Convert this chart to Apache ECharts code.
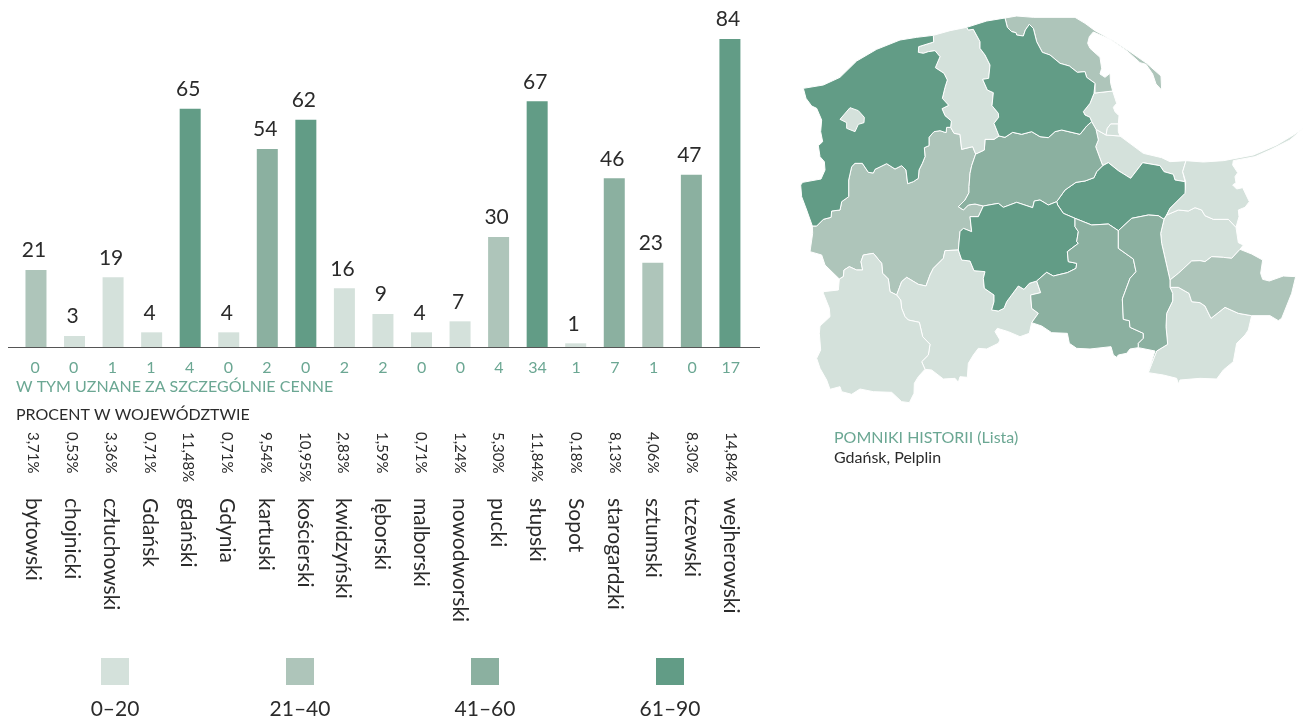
<!DOCTYPE html>
<html>
<head>
<meta charset="utf-8">
<title>Pomorskie</title>
<script src="https://cdn.jsdelivr.net/npm/echarts@6/dist/echarts.min.js"></script>
<style>
html, body { margin: 0; padding: 0; background: #fff; }
#chart { width: 1316px; height: 719px; }
</style>
</head>
<body>
<div id="chart"></div>
<script>
// dane z wykresu
const powiaty = ['bytowski', 'chojnicki', 'człuchowski', 'Gdańsk', 'gdański', 'Gdynia', 'kartuski', 'kościerski', 'kwidzyński', 'lęborski', 'malborski', 'nowodworski', 'pucki', 'słupski', 'Sopot', 'starogardzki', 'sztumski', 'tczewski', 'wejherowski'];
const liczby = [21, 3, 19, 4, 65, 4, 54, 62, 16, 9, 4, 7, 30, 67, 1, 46, 23, 47, 84];
const cenne = ['0', '0', '1', '1', '4', '0', '2', '0', '2', '2', '0', '0', '4', '34', '1', '7', '1', '0', '17'];
const procenty = ['3,71%', '0,53%', '3,36%', '0,71%', '11,48%', '0,71%', '9,54%', '10,95%', '2,83%', '1,59%', '0,71%', '1,24%', '5,30%', '11,84%', '0,18%', '8,13%', '4,06%', '8,30%', '14,84%'];
const zakresy = [[0, 20], [21, 40], [41, 60], [61, 90]];
const zakresyOpis = ['0–20', '21–40', '41–60', '61–90'];
const kolory = ['#d4e1db', '#aec5ba', '#8bb0a0', '#629c86'];

// kontury powiatow, odrysowane z obrazka (x, y w skali 3x, poczatek mapy w x=790)
const slupski = [[40,265],[100,255],[150,232],[200,183],[260,148],[330,120],[380,112],[430,106],[431,126],[386,140],[385,157],[400,160],[415,155],[435,152],[450,170],[436,203],[462,220],[472,240],[465,262],[457,295],[476,316],[456,326],[465,347],[484,363],[482,382],[470,382],[468,398],[450,392],[432,395],[417,412],[417,437],[403,443],[405,470],[397,490],[387,510],[385,535],[370,545],[353,551],[348,510],[335,497],[315,507],[290,491],[255,508],[250,519],[235,517],[217,490],[195,490],[185,500],[176,540],[176,590],[155,605],[150,630],[125,633],[123,652],[100,658],[80,678],[67,678],[50,630],[35,590],[32,555],[38,547],[93,537],[105,510],[103,485],[90,470],[85,437],[98,425],[92,395],[95,360],[80,325],[65,318],[48,295]];
const slupsk = [[150,358],[180,323],[205,332],[223,352],[222,368],[205,373],[195,395],[170,385],[170,368]];
const leborski = [[430,106],[480,92],[530,82],[535,90],[550,88],[570,125],[570,145],[585,165],[600,195],[596,235],[578,238],[592,270],[610,278],[606,317],[625,340],[626,352],[612,370],[627,408],[612,418],[585,418],[583,450],[557,462],[548,440],[515,448],[510,403],[492,400],[482,382],[484,363],[465,347],[456,326],[476,316],[457,295],[465,262],[472,240],[462,220],[436,203],[450,170],[435,152],[415,155],[400,160],[385,157],[386,140],[431,126]];
const wejherowski = [[530,82],[590,63],[645,54],[652,82],[665,95],[678,98],[680,105],[700,108],[706,90],[718,73],[730,85],[740,125],[757,157],[780,165],[810,190],[838,198],[862,217],[885,215],[890,232],[915,250],[912,280],[900,310],[880,335],[885,345],[900,352],[905,365],[890,378],[870,403],[815,390],[795,395],[775,413],[750,410],[725,395],[695,403],[668,397],[645,412],[627,408],[612,370],[626,352],[625,340],[606,317],[610,278],[592,270],[578,238],[596,235],[600,195],[585,165],[570,145],[570,125],[550,88],[535,90]];
const pucki = [[645,54],[680,48],[730,52],[855,52],[885,70],[915,92],[970,122],[1020,155],[1070,190],[1113,228],[1115,270],[1098,252],[1088,222],[1068,193],[1050,188],[1010,152],[960,118],[910,96],[898,110],[893,130],[900,145],[930,172],[935,205],[930,222],[945,232],[960,220],[962,250],[968,273],[915,279],[915,250],[890,232],[885,215],[862,217],[838,198],[810,190],[780,165],[757,157],[740,125],[730,85],[718,73],[706,90],[700,108],[680,105],[678,98],[665,95],[652,82]];
const gdynia = [[915,279],[968,273],[980,310],[970,322],[975,335],[987,347],[985,372],[962,372],[952,385],[948,405],[918,388],[905,365],[900,352],[885,345],[880,335],[900,310],[912,280]];
const sopot = [[962,372],[985,372],[985,395],[990,408],[948,405],[952,385]];
const gdansk = [[918,388],[948,405],[990,408],[1060,460],[1115,473],[1140,485],[1188,482],[1178,515],[1185,545],[1155,540],[1150,523],[1122,515],[1110,497],[1058,488],[1022,535],[985,512],[955,488],[938,497],[917,440],[925,420]];
const nowodworski = [[1188,482],[1240,486],[1300,482],[1390,465],[1460,435],[1510,405],[1540,385],[1500,420],[1440,450],[1395,470],[1330,482],[1328,495],[1343,518],[1335,530],[1338,548],[1328,555],[1340,567],[1358,563],[1378,605],[1365,622],[1345,630],[1347,650],[1338,682],[1315,658],[1270,658],[1245,647],[1235,630],[1215,623],[1195,633],[1165,630],[1130,645],[1140,625],[1185,580],[1187,545],[1178,515]];
const gdanski = [[800,605],[825,570],[858,547],[885,543],[912,533],[920,515],[938,497],[955,488],[985,512],[1022,535],[1058,488],[1110,497],[1122,515],[1150,523],[1155,540],[1185,545],[1187,580],[1140,625],[1130,645],[1122,658],[1105,647],[1075,645],[1025,655],[985,692],[955,672],[905,675],[855,655],[820,640],[803,615]];
const kartuski = [[557,462],[583,450],[585,418],[612,418],[627,408],[645,412],[668,397],[695,403],[725,395],[750,410],[775,413],[795,395],[815,390],[870,403],[890,378],[905,365],[918,388],[925,420],[917,440],[938,497],[920,515],[912,533],[885,543],[858,547],[825,570],[800,605],[775,615],[750,600],[733,603],[728,623],[680,607],[640,622],[625,610],[580,618],[555,612],[535,615],[520,630],[505,620],[525,600],[537,578],[537,560],[540,520],[545,497]];
const koscierski = [[580,618],[625,610],[640,622],[680,607],[728,623],[733,603],[750,600],[775,615],[800,605],[803,615],[820,640],[855,655],[855,680],[865,695],[860,725],[865,730],[832,755],[835,785],[860,790],[858,805],[832,818],[790,828],[770,817],[740,843],[718,850],[702,868],[685,858],[650,905],[642,925],[625,933],[605,930],[612,905],[612,885],[583,865],[580,835],[585,815],[552,812],[540,783],[515,780],[505,750],[510,695],[520,685],[545,695],[540,650],[565,650]];
const starogardzki = [[855,655],[905,675],[955,672],[985,692],[985,745],[1030,777],[1038,815],[1020,835],[997,897],[1000,958],[1018,962],[1020,982],[1060,1000],[1060,1015],[1045,1030],[1045,1043],[1020,1047],[1010,1060],[985,1065],[980,1072],[970,1065],[963,1040],[900,1047],[860,1045],[838,1030],[832,1000],[785,998],[755,978],[725,968],[745,940],[725,925],[722,885],[752,878],[740,843],[770,817],[790,828],[832,818],[858,805],[860,790],[835,785],[832,755],[865,730],[860,725],[865,695],[855,680]];
const tczewski = [[985,692],[1025,655],[1075,645],[1105,647],[1122,658],[1112,700],[1115,730],[1140,840],[1140,862],[1148,880],[1148,903],[1130,940],[1128,980],[1133,1033],[1100,1053],[1074,1118],[1072,1118],[1095,1053],[1045,1043],[1045,1030],[1060,1015],[1060,1000],[1020,982],[1018,962],[1000,958],[997,897],[1020,835],[1038,815],[1030,777],[985,745]];
const malborski = [[1130,645],[1165,630],[1195,633],[1215,623],[1235,630],[1245,647],[1270,658],[1315,658],[1338,682],[1345,728],[1360,735],[1350,748],[1325,775],[1300,772],[1265,770],[1245,785],[1230,782],[1205,783],[1165,820],[1140,840],[1115,730],[1112,700],[1122,658]];
const sztumski = [[1140,840],[1165,820],[1205,783],[1230,782],[1245,785],[1265,770],[1300,772],[1325,775],[1350,748],[1385,762],[1418,780],[1412,820],[1418,838],[1438,843],[1480,828],[1517,830],[1505,880],[1485,930],[1475,955],[1465,962],[1440,947],[1385,947],[1345,940],[1305,922],[1263,955],[1245,918],[1230,908],[1205,905],[1197,880],[1165,862],[1140,862]];
const kwidzynski = [[1140,862],[1165,862],[1197,880],[1205,905],[1230,908],[1245,918],[1263,955],[1305,922],[1345,940],[1385,947],[1375,990],[1365,1005],[1340,1030],[1330,1085],[1300,1110],[1280,1137],[1230,1135],[1170,1140],[1165,1152],[1160,1135],[1120,1125],[1075,1118],[1100,1053],[1133,1033],[1128,980],[1130,940],[1148,903],[1148,880]];
const bytowski = [[482,382],[492,400],[510,403],[515,448],[548,440],[557,462],[545,497],[540,520],[537,560],[537,578],[525,600],[505,620],[520,630],[535,615],[555,612],[580,618],[565,650],[540,650],[545,695],[520,685],[510,695],[505,750],[465,752],[460,775],[430,805],[420,825],[408,858],[385,853],[350,832],[335,845],[320,885],[300,875],[295,837],[278,820],[275,790],[250,760],[220,765],[213,785],[218,810],[200,810],[178,800],[162,810],[160,830],[148,837],[105,795],[95,765],[60,755],[68,700],[67,678],[80,678],[100,658],[123,652],[125,633],[150,630],[155,605],[176,590],[176,540],[185,500],[195,490],[217,490],[235,517],[250,519],[255,508],[290,491],[315,507],[335,497],[348,510],[353,551],[370,545],[385,535],[387,510],[397,490],[405,470],[403,443],[417,437],[417,412],[432,395],[450,392],[468,398],[470,382]];
const czluchowski = [[148,837],[160,830],[162,810],[178,800],[200,810],[218,810],[213,785],[220,765],[250,760],[275,790],[278,820],[295,837],[300,875],[320,885],[332,900],[335,925],[345,950],[355,960],[388,967],[398,1010],[420,1033],[415,1065],[395,1085],[405,1108],[385,1130],[373,1150],[372,1180],[358,1208],[335,1205],[305,1177],[250,1175],[210,1167],[185,1183],[155,1175],[150,1160],[120,1168],[110,1140],[90,1105],[80,1075],[92,1050],[88,1000],[90,978],[120,950],[118,925],[100,880],[100,875],[145,870]];
const chojnicki = [[320,885],[335,845],[350,832],[385,853],[408,858],[420,825],[430,805],[460,775],[465,752],[505,750],[515,780],[540,783],[552,812],[585,815],[580,835],[583,865],[612,885],[612,905],[605,930],[625,933],[642,925],[650,905],[685,858],[702,868],[718,850],[740,843],[752,878],[722,885],[725,925],[745,940],[725,968],[718,1000],[690,1010],[655,995],[622,985],[615,995],[630,1020],[625,1030],[590,1047],[565,1045],[550,1065],[535,1090],[532,1132],[510,1130],[505,1147],[495,1135],[460,1137],[425,1110],[405,1108],[395,1085],[415,1065],[420,1033],[398,1010],[388,967],[355,960],[345,950],[335,925],[332,900]];

const kontury = {
  'bytowski': bytowski, 'chojnicki': chojnicki, 'człuchowski': czluchowski, 'Gdańsk': gdansk,
  'gdański': gdanski, 'Gdynia': gdynia, 'kartuski': kartuski, 'kościerski': koscierski,
  'kwidzyński': kwidzynski, 'lęborski': leborski, 'malborski': malborski, 'nowodworski': nowodworski,
  'pucki': pucki, 'słupski': slupski, 'Sopot': sopot, 'starogardzki': starogardzki,
  'sztumski': sztumski, 'tczewski': tczewski, 'wejherowski': wejherowski, 'Słupsk': slupsk
};

// miasto Slupsk nie ma slupka, na mapie jest w najjasniejszej klasie
const slupskWartosc = 10;

const geoJson = {
  type: 'FeatureCollection',
  features: Object.keys(kontury).map(function (name) {
    const ring = kontury[name].map(function (p) { return [p[0], -p[1]]; });
    ring.push(ring[0]);
    return {
      type: 'Feature',
      properties: { name: name },
      geometry: { type: 'Polygon', coordinates: [ring] }
    };
  })
};
echarts.registerMap('pomorskie', geoJson);

const tekst = '#2b2b2b';
const zielony = '#6ba793';
const czcionka = 'Lato, "Noto Sans", sans-serif';

function osX(gridIndex, dane, margin, rotate, size, color) {
  return {
    type: 'category',
    gridIndex: gridIndex,
    position: 'bottom',
    data: dane,
    axisLine: { show: false },
    axisTick: { show: false },
    axisLabel: { interval: 0, rotate: rotate, margin: margin, fontSize: size, color: color, fontFamily: czcionka }
  };
}

function osY(gridIndex) {
  return { type: 'value', gridIndex: gridIndex, show: false, min: 0, max: 84 };
}

// legenda pod wykresem
const legendaX = [115, 300, 485, 670];
const legenda = [];
zakresyOpis.forEach(function (opis, i) {
  legenda.push({
    type: 'rect',
    shape: { x: legendaX[i] - 14, y: 658, width: 28, height: 27 },
    style: { fill: kolory[i] }
  });
  legenda.push({
    type: 'text',
    style: { x: legendaX[i], y: 709, text: opis, fill: tekst, font: '21px ' + czcionka, textAlign: 'center', textVerticalAlign: 'middle' }
  });
});

function napis(x, y, text, color, size) {
  return {
    type: 'text',
    style: { x: x, y: y, text: text, fill: color, font: size + 'px ' + czcionka, textVerticalAlign: 'middle' }
  };
}

const chart = echarts.init(document.getElementById('chart'), null, { renderer: 'canvas' });
chart.setOption({
  animation: false,
  backgroundColor: '#fff',
  textStyle: { fontFamily: czcionka },
  // podpisy w oryginale maja troche inny rozstaw niz slupki, stad osobne siatki
  grid: [
    { left: 16.7, width: 732.5, top: 39, height: 308 },
    { left: 15.7, width: 734.5, top: 39, height: 308 },
    { left: 13.8, width: 736.3, top: 39, height: 308 }
  ],
  xAxis: [
    osX(0, liczby, 0, 0, 1, 'transparent'),
    osX(1, cenne, 13, 0, 16, zielony),
    osX(2, procenty, 85, -90, 15, tekst),
    osX(2, powiaty, 151, -90, 21, tekst)
  ],
  yAxis: [osY(0), osY(1), osY(2)],
  visualMap: {
    show: false,
    seriesIndex: [0, 1],
    pieces: zakresy.map(function (z, i) {
      return { min: z[0], max: z[1], color: kolory[i] };
    })
  },
  series: [
    {
      type: 'bar',
      barWidth: 21,
      data: liczby,
      silent: true,
      label: { show: true, position: 'top', distance: 9, offset: [-2, 0], fontSize: 21, color: tekst, fontFamily: czcionka }
    },
    {
      type: 'map',
      map: 'pomorskie',
      aspectScale: 1,
      boundingCoords: [[0, 0], [1578, -1230]],
      left: 790,
      top: 0,
      width: 526,
      height: 410,
      silent: true,
      selectedMode: false,
      label: { show: false },
      itemStyle: { borderColor: '#fff', borderWidth: 1 },
      data: powiaty.map(function (name, i) {
        return { name: name, value: liczby[i] };
      }).concat([{ name: 'Słupsk', value: slupskWartosc }])
    }
  ],
  graphic: [
    {
      type: 'line',
      shape: { x1: 8, y1: 347.5, x2: 760, y2: 347.5 },
      style: { stroke: '#555', lineWidth: 1 },
      z: 10
    },
    napis(16, 386.5, 'W TYM UZNANE ZA SZCZEGÓLNIE CENNE', zielony, 16),
    napis(16, 415, 'PROCENT W WOJEWÓDZTWIE', tekst, 16),
    napis(834, 438, 'POMNIKI HISTORII (Lista)', zielony, 16),
    napis(834, 458, 'Gdańsk, Pelplin', tekst, 16)
  ].concat(legenda)
});
</script>
</body>
</html>
